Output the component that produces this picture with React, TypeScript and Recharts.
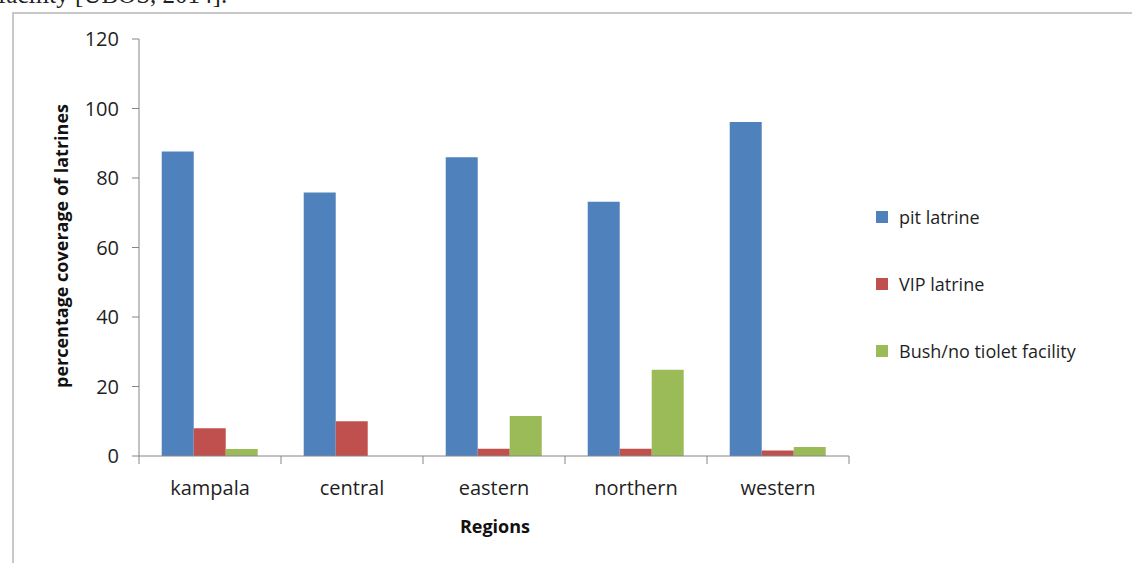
import React from "react";
import { BarChart, Bar, XAxis, YAxis, Legend, Label } from "recharts";

const regions = ["kampala", "central", "eastern", "northern", "western"];
const pitLatrine = [87.6, 75.8, 86.0, 73.2, 96.1];
const vipLatrine = [8.0, 10.0, 2.1, 2.1, 1.6];
const bushNoToilet = [2.0, 0, 11.5, 24.8, 2.6];
const yTicks = [0, 20, 40, 60, 80, 100, 120];

const seriesNames = ["pit latrine", "VIP latrine", "Bush/no tiolet facility"];
const colors = ["#4F81BD", "#C0504D", "#9BBB59"];

const data = regions.map((r, i) => ({
  region: r,
  pit: pitLatrine[i],
  vip: vipLatrine[i],
  bush: bushNoToilet[i]
}));

const W = 1132;
const H = 563;
const xAxisHeight = 107;
const margin = { top: 39, right: 283, bottom: 0, left: 0 };
const yAxisWidth = 139;
const plotWidth = W - margin.left - margin.right - yAxisWidth;
const halfBand = plotWidth / regions.length / 2;

const FONT = "'Open Sans', sans-serif";
const TEXT = "#1f1f1f";
const AXIS = "#868686";

function RegionTick(props: any) {
  const { x, y, payload, index } = props;
  const last = index === regions.length - 1;
  return (
    <g>
      <line x1={x - halfBand} x2={x - halfBand} y1={y} y2={y + 8} stroke={AXIS} />
      {last && <line x1={x + halfBand} x2={x + halfBand} y1={y} y2={y + 8} stroke={AXIS} />}
      <text x={x} y={y + 39} textAnchor="middle" fontFamily={FONT} fontSize={20} fill={TEXT}>
        {payload.value}
      </text>
    </g>
  );
}

function LegendBox(props: any) {
  const { payload } = props;
  const items = seriesNames
    .map((n) => (payload || []).find((p: any) => p.value === n))
    .filter(Boolean);
  return (
    <div style={{ fontFamily: FONT, fontSize: 18, color: TEXT }}>
      {items.map((p: any) => (
        <div key={p.value} style={{ display: "flex", alignItems: "center", height: 67 }}>
          <span style={{ width: 12, height: 12, background: p.color, marginRight: 11, display: "inline-block" }} />
          <span>{p.value}</span>
        </div>
      ))}
    </div>
  );
}

export default function App() {
  return (
    <div style={{ position: "absolute", left: 0, top: 0, width: W, height: H, overflow: "hidden", background: "#fff" }}>
      <div style={{ position: "absolute", left: -2, top: -19, fontFamily: "'Liberation Serif', serif", fontSize: 25, color: "#222", whiteSpace: "nowrap" }}>
        facility [UBOS, 2014].
      </div>
      <div style={{ position: "absolute", left: 12, top: 12, width: W, height: H, borderTop: "2px solid #c8c8c8", borderLeft: "2px solid #c8c8c8" }} />
      <div style={{ position: "absolute", left: 0, top: 0 }}>
        <BarChart width={W} height={H} data={data} margin={margin} barCategoryGap="16%" barGap={0}>
          <XAxis
            dataKey="region"
            axisLine={{ stroke: AXIS }}
            tickLine={false}
            tickSize={0}
            tickMargin={0}
            tick={<RegionTick />}
            interval={0}
            height={xAxisHeight}
          >
            <Label
              content={() => (
                <text x={495} y={533} textAnchor="middle" fontFamily={FONT} fontWeight="bold" fontSize={18} fill="#111">
                  Regions
                </text>
              )}
            />
          </XAxis>
          <YAxis
            width={yAxisWidth}
            domain={[0, 120]}
            ticks={yTicks}
            interval={0}
            axisLine={{ stroke: AXIS }}
            tickLine={{ stroke: AXIS }}
            tickSize={7}
            tickMargin={13}
            tick={{ fontFamily: FONT, fontSize: 20, fill: TEXT }}
          >
            <Label
              content={() => (
                <text
                  x={61}
                  y={246}
                  transform="rotate(-90 61 246)"
                  textAnchor="middle"
                  dominantBaseline="central"
                  fontFamily={FONT}
                  fontWeight="bold"
                  fontSize={18}
                  fill="#111"
                >
                  percentage coverage of latrines
                </text>
              )}
            />
          </YAxis>
          <Legend
            layout="vertical"
            align="center"
            verticalAlign="middle"
            content={<LegendBox />}
            wrapperStyle={{ position: "absolute", left: 876, top: 183, width: 260 }}
          />
          <Bar dataKey="pit" name={seriesNames[0]} fill={colors[0]} isAnimationActive={false} />
          <Bar dataKey="vip" name={seriesNames[1]} fill={colors[1]} isAnimationActive={false} />
          <Bar dataKey="bush" name={seriesNames[2]} fill={colors[2]} isAnimationActive={false} />
        </BarChart>
      </div>
    </div>
  );
}
